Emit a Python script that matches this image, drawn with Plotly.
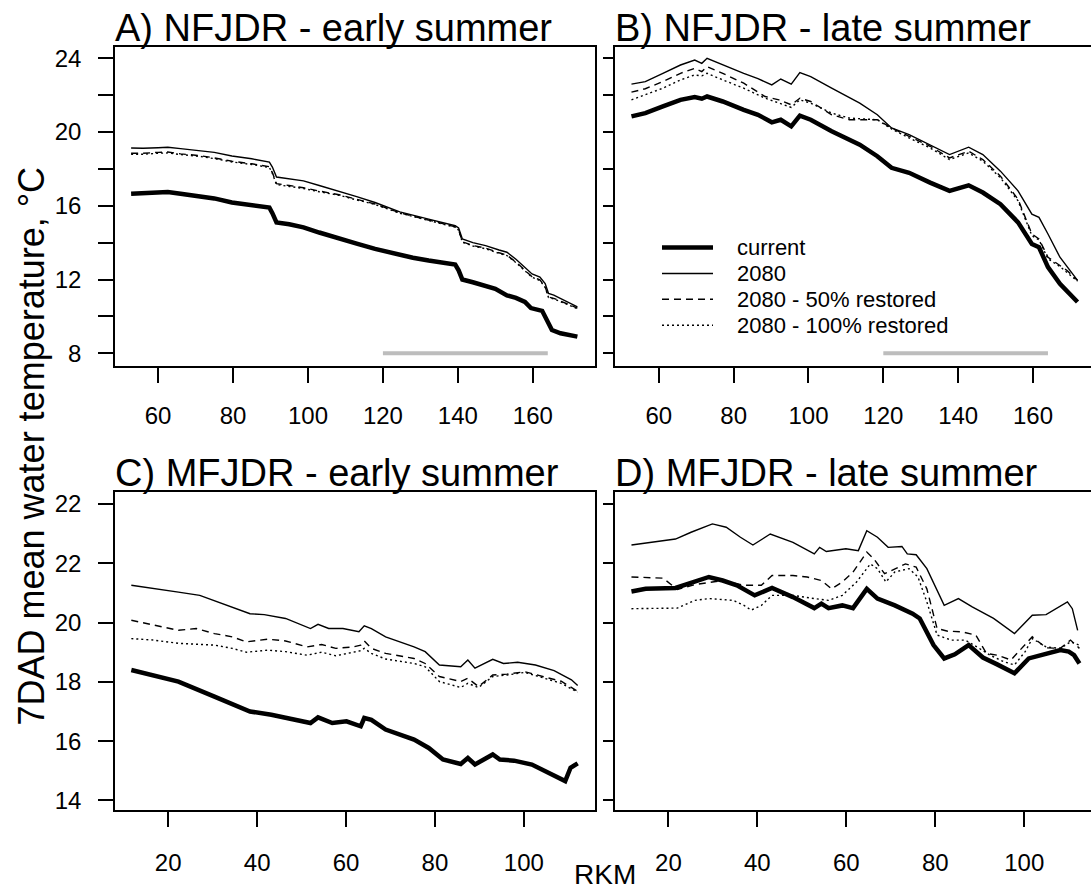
import plotly.graph_objects as go

W, H = 1091, 892
FONT = "Liberation Sans, Arial, sans-serif"

# ---------------- A) NFJDR - early summer ----------------
a_cur_x = [52.8, 56, 60, 62.6, 66, 71.2, 75, 79.7, 85, 89.7, 90.5, 91.6, 95, 98.8, 103, 108.3,
           113, 117.9, 121, 124.5, 128, 132.2, 136, 139.3, 140.2, 141.2, 144, 147.4, 150, 153.1,
           155.5, 157.9, 159.5, 162.5, 164.2, 165.1, 167.4, 171.9]
a_cur_y = [16.66, 16.7, 16.72, 16.75, 16.65, 16.48, 16.4, 16.18, 16.05, 15.9, 15.6, 15.1, 15.0,
           14.83, 14.55, 14.2, 13.95, 13.66, 13.5, 13.3, 13.18, 13.03, 12.92, 12.81, 12.5, 12.0,
           11.85, 11.68, 11.5, 11.14, 11.0, 10.78, 10.45, 10.3, 9.53, 9.26, 9.08, 8.9]

a_x = [52.8, 56, 60, 62.6, 66, 71.2, 75, 79.7, 85, 89.7, 90.5, 91.6, 95, 98.8, 103, 108.3, 113,
       117.9, 124.5, 132.2, 139.3, 140.2, 141.2, 144, 147.4, 151, 153.1, 155.5, 157.9, 159.8,
       161.9, 163.3, 164.2, 165.6, 171.9]
a_2080_y = [19.14, 19.12, 19.15, 19.18, 19.1, 19.0, 18.9, 18.7, 18.55, 18.37, 18.1, 17.56, 17.45,
            17.35, 17.1, 16.8, 16.5, 16.18, 15.67, 15.28, 14.92, 14.8, 14.2, 14.0, 13.84, 13.6,
            13.48, 13.1, 12.67, 12.3, 12.13, 11.78, 11.24, 11.15, 10.52]
a_r50_y = [18.85, 18.85, 18.9, 18.92, 18.82, 18.72, 18.6, 18.42, 18.28, 18.12, 17.8, 17.2, 17.1,
           16.98, 16.8, 16.6, 16.35, 16.1, 15.62, 15.22, 14.86, 14.7, 14.05, 13.85, 13.7, 13.45,
           13.32, 12.95, 12.5, 12.15, 11.98, 11.6, 11.05, 10.98, 10.45]
a_r100_y = [18.8, 18.8, 18.85, 18.87, 18.78, 18.68, 18.56, 18.38, 18.24, 18.08, 17.75, 17.15,
            17.05, 16.94, 16.76, 16.57, 16.32, 16.07, 15.6, 15.2, 14.84, 14.68, 14.02, 13.82,
            13.67, 13.42, 13.3, 12.92, 12.47, 12.12, 11.95, 11.57, 11.02, 10.95, 10.42]

# ---------------- B) NFJDR - late summer ----------------
b_x = [52.7, 56.4, 61.1, 65.8, 69.6, 71.5, 72.9, 77.1, 82.7, 86.5, 90.2, 92.6, 95.4, 97.7, 100.6,
       106.2, 113.7, 118.4, 122.2, 126.9, 132.5, 137.7, 142.8, 146.6, 151.3, 156.0, 159.7, 161.6,
       164.0, 167.2, 171.9]
b_cur_y = [20.85, 21.03, 21.39, 21.75, 21.9, 21.81, 21.93, 21.66, 21.21, 20.94, 20.53, 20.67,
           20.31, 20.89, 20.67, 20.04, 19.32, 18.69, 18.06, 17.79, 17.26, 16.81, 17.11, 16.72,
           16.09, 15.1, 13.93, 13.75, 12.67, 11.77, 10.78]
b_2080_y = [22.6, 22.74, 23.19, 23.64, 23.91, 23.73, 24.0, 23.64, 23.19, 22.9, 22.56, 22.88, 22.6,
            23.23, 23.01, 22.38, 21.57, 20.94, 20.22, 19.86, 19.32, 18.78, 19.18, 18.78, 17.88,
            16.81, 15.55, 15.37, 14.47, 13.21, 11.95]

b_rx = [52.7, 56.4, 61.1, 65.8, 69.6, 71.5, 72.9, 77.1, 82.7, 88.4, 92.1, 95.4, 97.7, 100.6,
        106.2, 110.9, 118.4, 122.2, 126.9, 132.5, 137.7, 142.8, 146.6, 151.3, 156.0, 159.7,
        161.6, 164.0, 167.2, 169.1, 171.9]
b_r50_y = [22.17, 22.35, 22.74, 23.19, 23.46, 23.28, 23.55, 23.19, 22.65, 21.93, 21.75, 21.48,
           21.84, 21.66, 20.94, 20.67, 20.67, 20.22, 19.77, 19.23, 18.6, 18.96, 18.51, 17.61,
           16.36, 14.47, 14.2, 13.21, 12.76, 12.49, 11.95]
b_r100_y = [21.75, 22.02, 22.38, 22.83, 23.1, 23.05, 23.19, 22.83, 22.38, 21.84, 21.57, 21.34,
            21.75, 21.57, 21.03, 20.76, 20.67, 20.17, 19.68, 19.14, 18.51, 18.87, 18.42, 17.52,
            16.27, 14.38, 14.15, 13.12, 12.7, 12.4, 11.91]

# ---------------- C) MFJDR - early summer ----------------
c_cur_x = [11.7, 22.3, 30.4, 38.4, 43.2, 50.4, 52.0, 53.7, 56.9, 60.1, 63.3, 64.1, 65.7, 68.9,
           75.3, 78.6, 81.8, 85.8, 87.4, 89.0, 93.0, 94.6, 97.8, 101.8, 105.1, 107.5, 109.3,
           110.5, 112.1]
c_cur_y = [18.4, 18.01, 17.5, 17.0, 16.89, 16.67, 16.61, 16.8, 16.61, 16.67, 16.5, 16.78, 16.72,
           16.39, 16.05, 15.77, 15.38, 15.23, 15.43, 15.21, 15.55, 15.38, 15.34, 15.21, 14.98,
           14.8, 14.65, 15.1, 15.25]

c_2080_x = [11.7, 16.7, 22.3, 27.1, 32.0, 38.4, 41.6, 46.4, 52.0, 53.7, 56.1, 59.3, 62.9, 64.1,
            65.7, 68.9, 75.3, 77.8, 81.0, 85.8, 87.4, 89.0, 93.0, 95.4, 98.6, 102.6, 106.8,
            110.7, 112.1]
c_2080_y = [21.26, 21.14, 21.03, 20.92, 20.64, 20.3, 20.27, 20.14, 19.8, 19.94, 19.8, 19.8, 19.69,
            19.89, 19.8, 19.52, 19.18, 19.02, 18.57, 18.51, 18.74, 18.46, 18.76, 18.62, 18.66,
            18.57, 18.38, 18.07, 17.88]

c_rx = [11.7, 16.7, 22.3, 26.3, 30.4, 34.4, 37.6, 42.4, 46.4, 51.2, 54.5, 57.7, 61.7, 63.3, 64.1,
        65.7, 68.9, 75.3, 77.8, 81.0, 85.8, 87.4, 89.8, 93.0, 96.2, 100.2, 105.1, 108.4, 112.1]
c_r50_y = [20.08, 19.91, 19.74, 19.8, 19.63, 19.52, 19.35, 19.44, 19.38, 19.18, 19.26, 19.13,
           19.18, 19.24, 19.38, 19.13, 18.96, 18.79, 18.62, 18.18, 18.01, 18.12, 17.84, 18.23,
           18.26, 18.34, 18.14, 18.02, 17.68]
c_r100_y = [19.46, 19.41, 19.3, 19.27, 19.24, 19.13, 19.0, 19.07, 19.02, 18.9, 19.0, 18.88,
            19.0, 19.05, 19.13, 18.96, 18.77, 18.62, 18.51, 18.01, 17.81, 17.95, 17.81, 18.18,
            18.23, 18.32, 18.1, 17.95, 17.65]

# ---------------- D) MFJDR - late summer ----------------
d_cur_x = [11.7, 14.9, 21.6, 25.9, 29.1, 32.2, 35.4, 39.4, 43.3, 48.0, 52.8, 54.4, 56.0, 59.1,
           61.5, 64.6, 67.0, 70.9, 74.9, 76.5, 79.6, 82.0, 84.4, 87.5, 90.7, 93.9, 97.8, 101.0,
           104.9, 108.1, 110.0, 111.2, 112.4]
d_cur_y = [21.05, 21.14, 21.17, 21.37, 21.54, 21.42, 21.26, 20.92, 21.17, 20.86, 20.49, 20.64,
           20.49, 20.58, 20.49, 21.14, 20.81, 20.58, 20.3, 20.14, 19.24, 18.79, 18.93, 19.24,
           18.82, 18.59, 18.29, 18.79, 18.96, 19.07, 19.02, 18.9, 18.62]

d_2080_x = [11.7, 14.9, 21.6, 25.1, 29.9, 33.0, 36.2, 39.0, 42.9, 48.0, 52.8, 54.0, 55.5, 59.9,
            62.7, 64.6, 67.0, 69.4, 72.5, 73.7, 75.7, 78.1, 82.0, 85.2, 88.3, 93.1, 97.8, 101.8,
            104.9, 109.7, 110.8, 112.0]
d_2080_y = [22.62, 22.68, 22.82, 23.05, 23.33, 23.22, 22.88, 22.62, 22.99, 22.71, 22.32, 22.54,
            22.4, 22.49, 22.43, 23.1, 22.88, 22.54, 22.57, 22.32, 22.29, 21.82, 20.58, 20.81,
            20.53, 20.14, 19.63, 20.25, 20.27, 20.7, 20.47, 19.74]

d_r50_x = [11.7, 18.8, 22.0, 25.9, 32.2, 37.0, 40.9, 43.3, 48.0, 51.2, 54.4, 56.7, 59.1, 61.5,
           64.6, 66.2, 68.6, 70.9, 73.3, 75.7, 78.1, 80.4, 82.8, 85.9, 89.1, 91.5, 93.9, 97.0,
           99.4, 101.8, 104.9, 108.1, 110.4, 112.4]
d_r50_y = [21.54, 21.5, 21.12, 21.28, 21.42, 21.26, 21.26, 21.59, 21.59, 21.54, 21.42, 21.14,
           21.37, 21.7, 22.38, 22.15, 21.65, 21.82, 21.98, 21.87, 21.14, 19.8, 19.71, 19.69,
           19.58, 18.96, 18.9, 18.74, 19.13, 19.52, 19.15, 19.13, 19.41, 19.13]

d_r100_x = [11.7, 22.0, 25.9, 29.1, 34.6, 37.0, 38.6, 40.9, 43.3, 48.0, 52.8, 56.0, 59.1, 62.3,
            65.4, 67.0, 68.9, 70.9, 74.1, 76.1, 78.1, 80.4, 83.6, 86.7, 89.9, 92.3, 95.4, 97.8,
            100.2, 101.8, 104.9, 108.1, 110.4, 112.4]
d_r100_y = [20.47, 20.49, 20.75, 20.81, 20.75, 20.58, 20.42, 20.58, 20.92, 20.92, 20.81, 20.75,
            20.92, 21.37, 21.98, 21.82, 21.37, 21.71, 21.82, 21.54, 20.7, 19.58, 19.41, 19.41,
            19.13, 18.9, 18.68, 18.57, 19.02, 19.46, 19.18, 19.13, 19.35, 19.24]

# grey reach marker on the NFJDR panels
reach_x = [120, 164]
reach_y = [8, 8]

panel_titles = ["A) NFJDR - early summer", "B) NFJDR - late summer",
                "C) MFJDR - early summer", "D) MFJDR - late summer"]
series_names = ["current", "2080", "2080 - 50% restored", "2080 - 100% restored"]

top_ticks = [8, 10, 12, 14, 16, 18, 20, 22, 24]
top_ticktext = ["8", "", "12", "", "16", "", "20", "", "24"]
bottom_ticks = [14, 16, 18, 20, 22, 24]
bottom_ticktext = ["14", "16", "18", "20", "22", "22"]
nf_xticks = [60, 80, 100, 120, 140, 160]
mf_xticks = [20, 40, 60, 80, 100]

# line styles: current, 2080, 50% restored, 100% restored
styles = [dict(color="black", width=4.5, dash="solid"),
          dict(color="black", width=1.4, dash="solid"),
          dict(color="black", width=1.4, dash="7px,5px"),
          dict(color="black", width=1.4, dash="2px,3px")]

panels = [
    [(a_cur_x, a_cur_y), (a_x, a_2080_y), (a_x, a_r50_y), (a_x, a_r100_y)],
    [(b_x, b_cur_y), (b_x, b_2080_y), (b_rx, b_r50_y), (b_rx, b_r100_y)],
    [(c_cur_x, c_cur_y), (c_2080_x, c_2080_y), (c_rx, c_r50_y), (c_rx, c_r100_y)],
    [(d_cur_x, d_cur_y), (d_2080_x, d_2080_y), (d_r50_x, d_r50_y), (d_r100_x, d_r100_y)],
]

fig = go.Figure()

for p, series in enumerate(panels):
    xa = "x" if p == 0 else f"x{p + 1}"
    ya = "y" if p == 0 else f"y{p + 1}"
    if p < 2:
        fig.add_trace(go.Scatter(x=reach_x, y=reach_y, mode="lines", xaxis=xa, yaxis=ya,
                                 line=dict(color="#bdbdbd", width=4), showlegend=False,
                                 hoverinfo="skip"))
    # draw thin lines first, thick current line last
    for s in [3, 2, 1, 0]:
        xs, ys = series[s]
        fig.add_trace(go.Scatter(x=xs, y=ys, mode="lines", name=series_names[s],
                                 xaxis=xa, yaxis=ya, line=styles[s], showlegend=False))


def px_x(v):
    return v / W


def px_y(v):
    return 1 - v / H


# panel boxes in pixels: (left, right, top, bottom)
boxes = [(115, 595, 45, 366), (615, 1091, 45, 366), (115, 595, 493, 813), (615, 1091, 493, 813)]
xranges = [[48.5, 176.6], [48.3, 175.5], [8.03, 116.0], [8.0, 115.0]]
yranges = [[7.31, 24.63], [7.31, 24.63], [13.66, 24.40], [13.66, 24.40]]

axis_common = dict(showline=True, linecolor="black", linewidth=1.6, ticks="outside",
                   tickcolor="black", tickwidth=1.5, showgrid=False, zeroline=False,
                   tickfont=dict(family=FONT, size=24, color="black"))

layout = dict(width=W, height=H, margin=dict(l=0, r=0, t=0, b=0),
              paper_bgcolor="white", plot_bgcolor="white", showlegend=False,
              font=dict(family=FONT, color="black"))

for p in range(4):
    l, r, t, b = boxes[p]
    left_col = p in (0, 2)
    top_row = p < 2
    xkey = "xaxis" if p == 0 else f"xaxis{p + 1}"
    ykey = "yaxis" if p == 0 else f"yaxis{p + 1}"
    layout[xkey] = dict(axis_common, domain=[px_x(l), px_x(r)], range=xranges[p],
                        anchor="y" if p == 0 else f"y{p + 1}", mirror=True,
                        tickvals=nf_xticks if top_row else mf_xticks, ticklen=15,
                        ticklabelstandoff=12 if top_row else 15)
    yticks = top_ticks if top_row else bottom_ticks
    ytext = top_ticktext if top_row else bottom_ticktext
    layout[ykey] = dict(axis_common, domain=[px_y(b), px_y(t)], range=yranges[p],
                        anchor="x" if p == 0 else f"x{p + 1}", mirror=left_col,
                        tickvals=yticks, ticktext=ytext if left_col else [""] * len(yticks),
                        tickmode="array", ticklen=15 if left_col else 10,
                        ticklabelstandoff=12)

annotations = []
for p in range(4):
    l, r, t, b = boxes[p]
    annotations.append(dict(text=panel_titles[p], xref="paper", yref="paper",
                            x=px_x(l - 2), y=px_y(t + 4), xanchor="left", yanchor="bottom",
                            showarrow=False, font=dict(family=FONT, size=38, color="black")))

annotations.append(dict(text="7DAD mean water temperature, °C", xref="paper", yref="paper",
                        x=px_x(31), y=px_y(447), xanchor="center", yanchor="middle",
                        textangle=-90, showarrow=False,
                        font=dict(family=FONT, size=36, color="black")))
annotations.append(dict(text="RKM", xref="paper", yref="paper", x=px_x(605), y=px_y(877),
                        xanchor="center", yanchor="middle", showarrow=False,
                        font=dict(family=FONT, size=28, color="black")))

# legend keys and labels inside panel B
legend_rows = [247, 273, 299, 325]
shapes = []
for i, name in enumerate(series_names):
    st = styles[i]
    shapes.append(dict(type="line", xref="paper", yref="paper",
                       x0=px_x(662), x1=px_x(713), y0=px_y(legend_rows[i]),
                       y1=px_y(legend_rows[i]),
                       line=dict(color="black", width=st["width"], dash=st["dash"])))
    annotations.append(dict(text=name, xref="paper", yref="paper", x=px_x(735),
                            y=px_y(legend_rows[i]), xanchor="left", yanchor="middle",
                            showarrow=False, font=dict(family=FONT, size=22, color="black")))

layout["annotations"] = annotations
layout["shapes"] = shapes
fig.update_layout(**layout)

fig.write_html("out.html")
